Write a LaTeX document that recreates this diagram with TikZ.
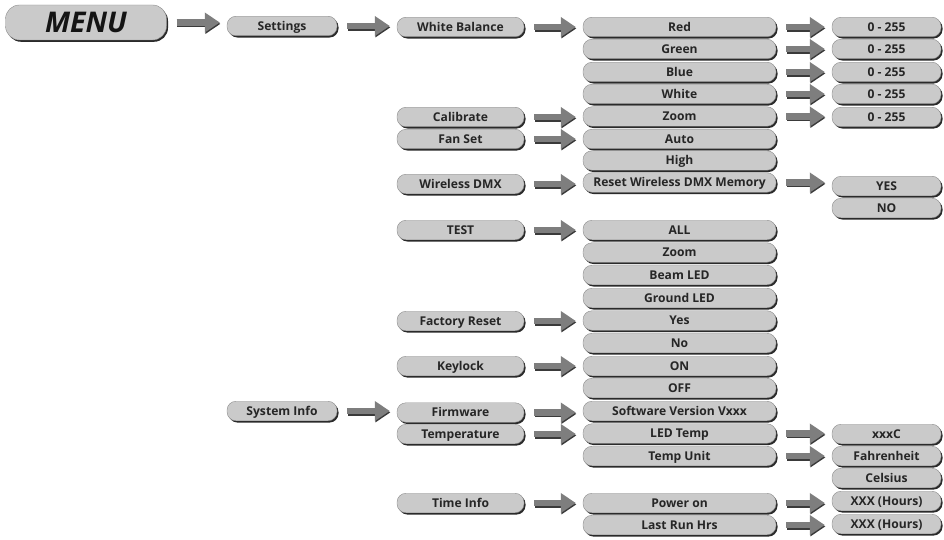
\documentclass[tikz,border=0pt]{standalone}
\usepackage{fontspec}
\setmainfont{Open Sans}
\usetikzlibrary{shadows,arrows.meta,calc}
\definecolor{boxfill}{HTML}{CACACA}
\definecolor{boxline}{HTML}{8C8C8C}
\definecolor{shadowc}{HTML}{2A2A2A}
\definecolor{txt}{HTML}{262626}
\definecolor{arrowc}{HTML}{7E7E7E}
\definecolor{arrowd}{HTML}{3A3A3A}
\newcommand\blockarr[2]{%
  \draw[arrowd, line width=6.5pt, -{Triangle[length=15pt,width=19pt]}, transform canvas={xshift=0.6pt,yshift=-1.4pt}]
    ($(#1.east)+(10,0)$) -- ($(#1.east -| #2.west)+(-7,0)$);
  \draw[arrowc, line width=6.5pt, -{Triangle[length=15pt,width=19pt]}]
    ($(#1.east)+(10,0)$) -- ($(#1.east -| #2.west)+(-7,0)$);
}
\begin{document}
\begin{tikzpicture}[x=1pt,y=-1pt,
  pill/.style={rounded corners=9pt, fill=boxfill, draw=boxline, line width=0.4pt,
    minimum height=19.5pt, inner sep=0pt, text=txt, text height=8.6pt, text depth=0pt,
    font=\bfseries\fontsize{12.1}{13}\selectfont,
    drop shadow={opacity=1, fill=shadowc, shadow xshift=1.5pt, shadow yshift=-1.8pt}},
  c1/.style={pill, minimum width=110pt},
  c2/.style={pill, minimum width=127pt},
  c3/.style={pill, minimum width=193pt},
  c4/.style={pill, minimum width=109pt}]
\useasboundingbox (0,0) rectangle (944,540);

\node[pill, minimum width=161pt, minimum height=35pt, rounded corners=14pt, text height=20pt,
  font=\bfseries\itshape\fontsize{28.5}{30}\selectfont, text=black!92] (menu) at (86,22.5) {MENU};

\node[c1] (settings) at (282,26) {Settings};
\node[c1] (sysinfo) at (282,411) {System Info};

\node[c2] (wb) at (460.5,27) {White Balance};
\node[c2] (calib) at (460.5,117) {Calibrate};
\node[c2] (fan) at (460.5,139) {Fan Set};
\node[c2] (wdmx) at (460.5,184) {Wireless DMX};
\node[c2] (test) at (460.5,230) {TEST};
\node[c2] (freset) at (460.5,321) {Factory Reset};
\node[c2] (keylock) at (460.5,366) {Keylock};
\node[c2] (firmware) at (460.5,412.5) {Firmware};
\node[c2] (temp) at (460.5,434) {Temperature};
\node[c2] (timeinfo) at (460.5,503) {Time Info};

\node[c3] (red) at (679.5,27) {Red};
\node[c3] (green) at (679.5,49) {Green};
\node[c3] (blue) at (679.5,72) {Blue};
\node[c3] (white) at (679.5,94) {White};
\node[c3] (zoom) at (679.5,116.5) {Zoom};
\node[c3] (auto) at (679.5,139) {Auto};
\node[c3] (high) at (679.5,160.5) {High};
\node[c3] (reset) at (679.5,182.5) {Reset Wireless DMX Memory};
\node[c3] (all) at (679.5,230) {ALL};
\node[c3] (zoomt) at (679.5,252.5) {Zoom};
\node[c3] (beam) at (679.5,275) {Beam LED};
\node[c3] (ground) at (679.5,298) {Ground LED};
\node[c3] (yes) at (679.5,320.5) {Yes};
\node[c3] (no) at (679.5,343) {No};
\node[c3] (on) at (679.5,366) {ON};
\node[c3] (off) at (679.5,388) {OFF};
\node[c3] (sw) at (679.5,411) {Software Version Vxxx};
\node[c3] (ledtemp) at (679.5,433.5) {LED Temp};
\node[c3] (tempunit) at (679.5,456) {Temp Unit};
\node[c3] (poweron) at (679.5,503) {Power on};
\node[c3] (lastrun) at (679.5,525) {Last Run Hrs};

\node[c4] (r0) at (886.5,27) {0 - 255};
\node[c4] (g0) at (886.5,49) {0 - 255};
\node[c4] (b0) at (886.5,72) {0 - 255};
\node[c4] (w0) at (886.5,94) {0 - 255};
\node[c4] (z0) at (886.5,117) {0 - 255};
\node[c4] (yesb) at (886.5,186) {YES};
\node[c4] (nob) at (886.5,208) {NO};
\node[c4] (xxxc) at (886.5,434) {xxxC};
\node[c4] (fahr) at (886.5,456) {Fahrenheit};
\node[c4] (cels) at (886.5,478) {Celsius};
\node[c4] (hrs1) at (886.5,501) {XXX (Hours)};
\node[c4] (hrs2) at (886.5,524) {XXX (Hours)};

\blockarr{menu}{settings}
\blockarr{settings}{wb}
\blockarr{sysinfo}{firmware}
\blockarr{wb}{red}
\blockarr{calib}{zoom}
\blockarr{fan}{auto}
\blockarr{wdmx}{reset}
\blockarr{test}{all}
\blockarr{freset}{yes}
\blockarr{keylock}{on}
\blockarr{firmware}{sw}
\blockarr{temp}{ledtemp}
\blockarr{timeinfo}{poweron}
\blockarr{red}{r0}
\blockarr{green}{g0}
\blockarr{blue}{b0}
\blockarr{white}{w0}
\blockarr{zoom}{z0}
\blockarr{reset}{yesb}
\blockarr{ledtemp}{xxxc}
\blockarr{tempunit}{fahr}
\blockarr{poweron}{hrs1}
\blockarr{lastrun}{hrs2}
\end{tikzpicture}
\end{document}
